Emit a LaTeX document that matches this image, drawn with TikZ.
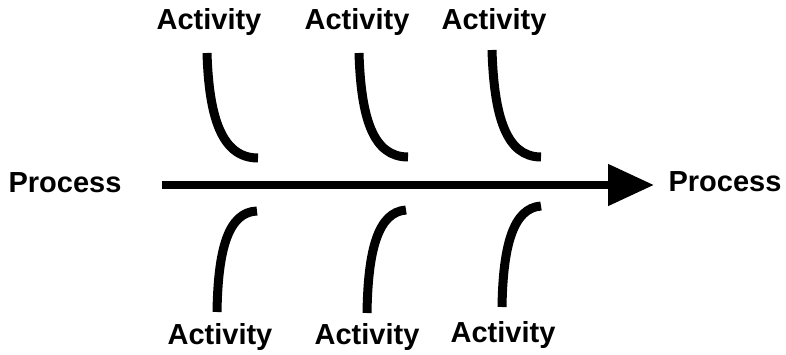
\documentclass[tikz,border=0pt]{standalone}
\usepackage{fontspec}
\setmainfont{Liberation Sans}
\usetikzlibrary{arrows.meta}
\tikzset{
  label/.style={font=\fontsize{29}{32}\selectfont\bfseries, inner sep=0pt},
  bone/.style={line width=9pt},
  spine/.style={line width=8pt, -{Triangle[length=46pt, width=40pt]}}
}
\begin{document}
\begin{tikzpicture}[x=1pt, y=-1pt]
  \useasboundingbox (0,0) rectangle (786,355);
  % processes and spine
  \node[label] (pin) at (65,183) {Process};
  \node[label] (pout) at (725,182) {Process};
  \coordinate (s0) at (162,185);
  \coordinate (s1) at (654,185);
  \draw[spine] (s0) -- (s1);
  % upper activities
  \node[label] (a1) at (209,22) {Activity};
  \node[label] (a2) at (357,22) {Activity};
  \node[label] (a3) at (494,22) {Activity};
  \draw[bone] (207,53) .. controls (209,118) and (222,158) .. (258,158);
  \draw[bone] (359,53) .. controls (361,118) and (373,157) .. (408,157);
  \draw[bone] (492,50) .. controls (494,116) and (506,157) .. (541,157);
  % lower activities
  \node[label] (b1) at (220,337) {Activity};
  \node[label] (b2) at (367,337) {Activity};
  \node[label] (b3) at (503,335) {Activity};
  \draw[bone] (257,211) .. controls (228,212) and (218,250) .. (217,312);
  \draw[bone] (406,210) .. controls (378,212) and (368,250) .. (367,313);
  \draw[bone] (541,206) .. controls (513,208) and (503,246) .. (502,307);
\end{tikzpicture}
\end{document}
